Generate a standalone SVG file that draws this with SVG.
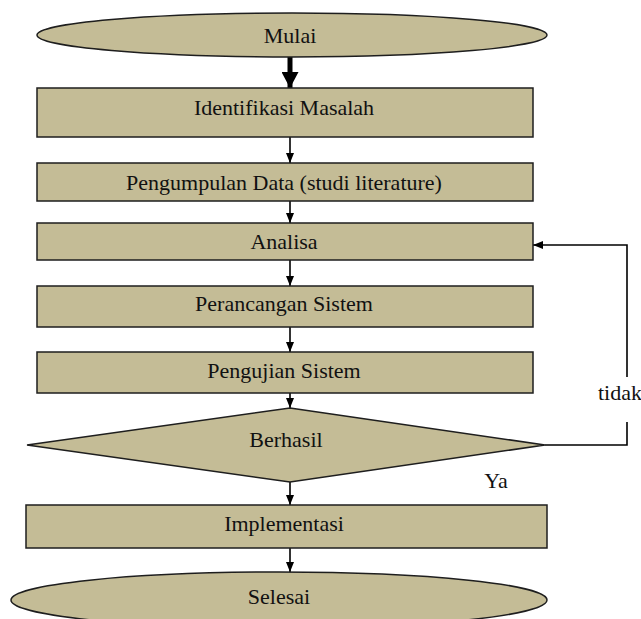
<svg xmlns="http://www.w3.org/2000/svg" width="641" height="619" viewBox="0 0 641 619">
<style>
.n{fill:#C4BC96;stroke:#1e1e1e;stroke-width:1.5}
.t{font-family:"Liberation Serif","DejaVu Serif","Times New Roman",serif;font-size:22px;fill:#111;text-anchor:middle}
.c{stroke:#000;stroke-width:1.6;fill:none}
</style>
<defs>
<marker id="a" markerWidth="10" markerHeight="8" refX="10" refY="4" orient="auto" markerUnits="userSpaceOnUse"><path d="M0,0 L10,4 L0,8 Z" fill="#000"/></marker>
<marker id="b" markerWidth="16" markerHeight="17" refX="16" refY="8.5" orient="auto" markerUnits="userSpaceOnUse"><path d="M0,0 L16,8.5 L0,17 Z" fill="#000"/></marker>
</defs>
<rect width="641" height="619" fill="#fff"/>
<g id="connectors">
<line x1="290" y1="57" x2="290" y2="88" stroke="#000" stroke-width="5" marker-end="url(#b)"/>
<line class="c" x1="290" y1="137" x2="290" y2="163" marker-end="url(#a)"/>
<line class="c" x1="290" y1="201" x2="290" y2="223" marker-end="url(#a)"/>
<line class="c" x1="290" y1="260" x2="290" y2="286" marker-end="url(#a)"/>
<line class="c" x1="290" y1="327" x2="290" y2="352" marker-end="url(#a)"/>
<line class="c" x1="290" y1="393" x2="290" y2="408" marker-end="url(#a)"/>
<line class="c" x1="290" y1="482" x2="290" y2="505" marker-end="url(#a)"/>
<line class="c" x1="290" y1="548" x2="290" y2="572" marker-end="url(#a)"/>
<polyline class="c" points="545,445 627,445 627,422"/>
<polyline class="c" points="627,377 627,245 533,245" marker-end="url(#a)"/>
<text class="t" x="620" y="400">tidak</text>
<text class="t" x="496" y="488">Ya</text>
</g>
<g id="mulai"><ellipse class="n" cx="292" cy="35" rx="255" ry="22"/><text class="t" x="290" y="43">Mulai</text></g>
<g id="identifikasi"><rect class="n" x="37" y="88" width="496" height="49"/><text class="t" x="284" y="115">Identifikasi Masalah</text></g>
<g id="pengumpulan"><rect class="n" x="37" y="163" width="496" height="38"/><text class="t" x="284" y="190">Pengumpulan Data (studi literature)</text></g>
<g id="analisa"><rect class="n" x="37" y="223" width="496" height="37"/><text class="t" x="284" y="249">Analisa</text></g>
<g id="perancangan"><rect class="n" x="37" y="286" width="496" height="41"/><text class="t" x="284" y="311">Perancangan Sistem</text></g>
<g id="pengujian"><rect class="n" x="37" y="352" width="496" height="41"/><text class="t" x="284" y="378">Pengujian Sistem</text></g>
<g id="berhasil"><polygon class="n" points="290,408 545,445 290,482 27,445"/><text class="t" x="286" y="447">Berhasil</text></g>
<g id="implementasi"><rect class="n" x="26" y="505" width="521" height="43"/><text class="t" x="284" y="531">Implementasi</text></g>
<g id="selesai"><ellipse class="n" cx="279" cy="600" rx="268" ry="28"/><text class="t" x="279" y="604">Selesai</text></g>
</svg>
